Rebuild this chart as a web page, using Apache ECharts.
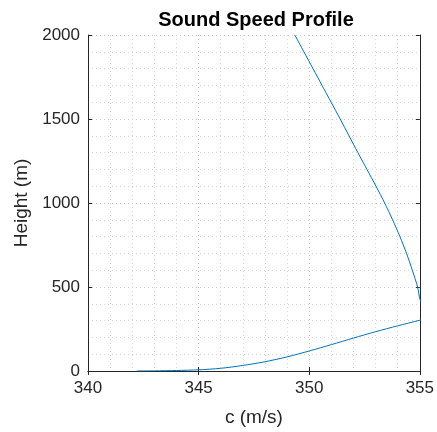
<!DOCTYPE html>
<html><head><meta charset="utf-8">
<script src="https://cdn.jsdelivr.net/npm/echarts@6/dist/echarts.min.js"></script>
<style>html,body{margin:0;padding:0;background:#fff}#c{width:437px;height:432px}</style>
</head><body><div id="c"></div>
<script>
var speed = [342.2, 343.0, 344.0, 345.0, 346.0, 347.0, 348.0, 349.0, 350.0, 351.0, 352.0, 353.0, 354.0, 355.0, 355.3, 355.25, 355.15, 355.0, 354.9, 354.66, 354.4, 354.1, 353.77, 353.41, 353.02, 352.61, 352.2, 351.8, 351.4, 350.99, 350.58, 350.17, 349.76, 349.35];
var height = [0, 1, 3, 7, 16, 33, 55, 84, 119, 157, 196, 234, 269, 302, 311, 340, 380, 430, 500, 600, 700, 800, 900, 1000, 1100, 1200, 1300, 1400, 1500, 1600, 1700, 1800, 1900, 2000];
var xTicks = [340, 345, 350, 355];
var yTicks = [0, 500, 1000, 1500, 2000];

var font = 'Arial';
var axisColor = '#262626';
var chart = echarts.init(document.getElementById('c'));
var pts = speed.map(function (c, i) { return [c, height[i]]; });
function axisBase(extra) {
  var base = {
    type: 'value',
    axisLine: { show: true, lineStyle: { color: axisColor, width: 1 } },
    axisTick: { show: true, inside: true, length: 4, lineStyle: { color: axisColor } },
    splitLine: { show: false },
    minorTick: { show: false },
    minorSplitLine: { show: false },
    axisLabel: { show: false }
  };
  for (var k in extra) base[k] = extra[k];
  return base;
}
var gridMajor = { show: true, lineStyle: { color: '#c8c8c8', type: [1, 3], width: 1 } };
var gridMinor = { show: true, lineStyle: { color: '#d6d6d6', type: [1, 3], width: 1 } };
chart.setOption({
  animation: false,
  title: {
    text: 'Sound Speed Profile', left: 251, top: 5, textAlign: 'center',
    textStyle: { fontFamily: font, fontSize: 20, fontWeight: 'bold', color: '#000' }
  },
  grid: { left: 88, right: 14, top: 35, bottom: 60 },
  xAxis: [
    axisBase({
      min: xTicks[0], max: xTicks[xTicks.length - 1], interval: 5, position: 'bottom',
      name: 'c (m/s)', nameLocation: 'middle', nameGap: 37,
      nameTextStyle: { fontFamily: font, fontSize: 19, color: axisColor },
      axisLabel: { show: true, fontFamily: font, fontSize: 17, color: axisColor, margin: 9,
        formatter: function (v) { return String(v); } },
      splitLine: gridMajor,
      minorTick: { show: false, splitNumber: 5 },
      minorSplitLine: gridMinor
    }),
    axisBase({ min: 340, max: 355, interval: 5, position: 'top' })
  ],
  yAxis: [
    axisBase({
      min: yTicks[0], max: yTicks[yTicks.length - 1], interval: 500, position: 'left',
      name: 'Height (m)', nameLocation: 'middle', nameGap: 52, nameRotate: 90,
      nameTextStyle: { fontFamily: font, fontSize: 19, color: axisColor },
      axisLabel: { show: true, fontFamily: font, fontSize: 17, color: axisColor, margin: 8,
        formatter: function (v) { return String(v); } },
      splitLine: gridMajor,
      minorTick: { show: false, splitNumber: 5 },
      minorSplitLine: gridMinor
    }),
    axisBase({ min: 0, max: 2000, interval: 500, position: 'right' })
  ],
  series: [{
    type: 'line', data: pts, xAxisIndex: 0, yAxisIndex: 0,
    showSymbol: false, smooth: 0.25, clip: true,
    lineStyle: { color: '#0072BD', width: 1 }
  }]
});
</script></body></html>
